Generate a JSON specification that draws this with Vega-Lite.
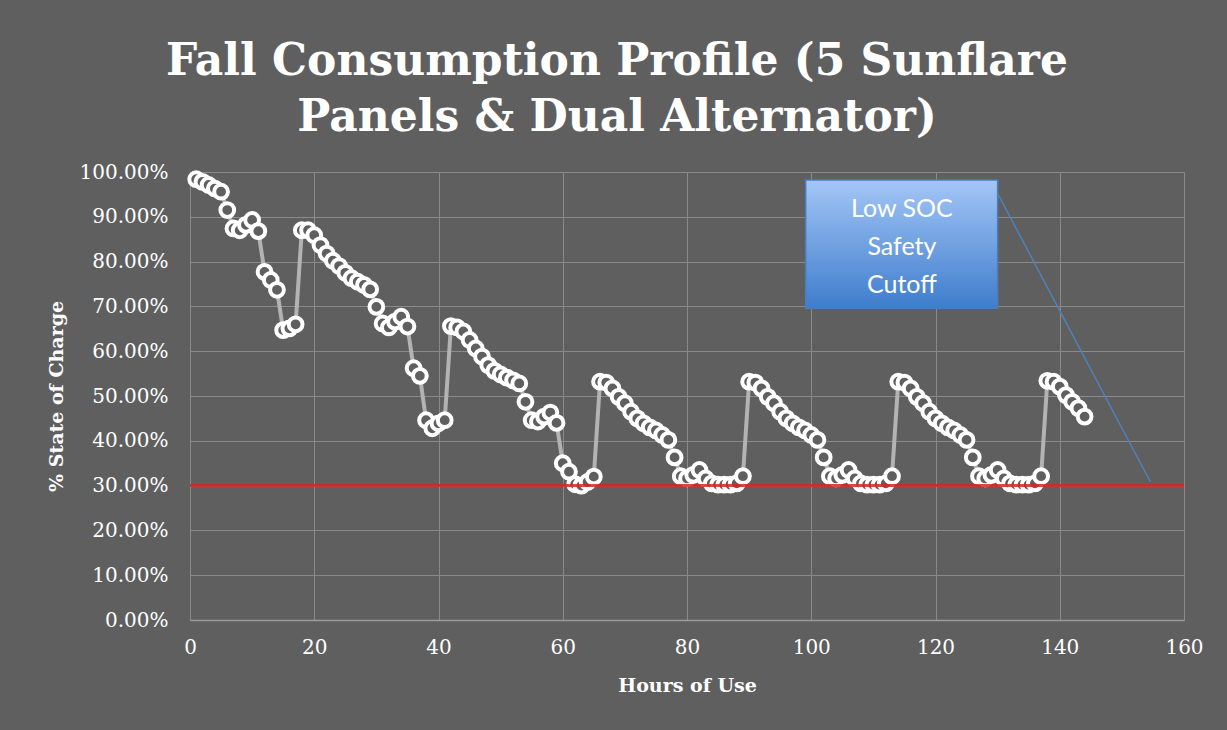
{
  "$schema": "https://vega.github.io/schema/vega-lite/v6.json",
  "autosize": {"type": "none"},
  "width": 994,
  "height": 448,
  "padding": {"left": 190, "top": 172, "right": 43, "bottom": 110},
  "background": "#5f5f5f",
  "title": {
    "text": ["Fall Consumption Profile (5 Sunflare", "Panels & Dual Alternator)"],
    "font": "DejaVu Serif",
    "fontSize": 44,
    "fontWeight": "bold",
    "color": "white",
    "lineHeight": 56,
    "anchor": "middle",
    "frame": "group",
    "dx": -70,
    "offset": 22
  },
  "config": {
    "view": {"stroke": null},
    "axis": {
      "labelColor": "white",
      "titleColor": "white",
      "labelFont": "DejaVu Serif",
      "labelFontSize": 20,
      "titleFont": "DejaVu Serif",
      "titleFontSize": 19,
      "titleFontWeight": "bold",
      "gridColor": "#8a8a8a",
      "gridWidth": 1,
      "ticks": false,
      "labelFlush": false
    }
  },
  "layer": [
    {
      "data": {"name": "soc", "values": [
        {"hour": 1, "soc": 0.984}, {"hour": 2, "soc": 0.978}, {"hour": 3, "soc": 0.971}, {"hour": 4, "soc": 0.963}, {"hour": 5, "soc": 0.956},
        {"hour": 6, "soc": 0.915}, {"hour": 7, "soc": 0.874}, {"hour": 8, "soc": 0.870}, {"hour": 9, "soc": 0.882}, {"hour": 10, "soc": 0.893},
        {"hour": 11, "soc": 0.868}, {"hour": 12, "soc": 0.777}, {"hour": 13, "soc": 0.759}, {"hour": 14, "soc": 0.737}, {"hour": 15, "soc": 0.647},
        {"hour": 16, "soc": 0.651}, {"hour": 17, "soc": 0.660}, {"hour": 18, "soc": 0.870}, {"hour": 19, "soc": 0.870}, {"hour": 20, "soc": 0.859},
        {"hour": 21, "soc": 0.837}, {"hour": 22, "soc": 0.818}, {"hour": 23, "soc": 0.802}, {"hour": 24, "soc": 0.790}, {"hour": 25, "soc": 0.775},
        {"hour": 26, "soc": 0.763}, {"hour": 27, "soc": 0.755}, {"hour": 28, "soc": 0.748}, {"hour": 29, "soc": 0.738}, {"hour": 30, "soc": 0.699},
        {"hour": 31, "soc": 0.662}, {"hour": 32, "soc": 0.653}, {"hour": 33, "soc": 0.666}, {"hour": 34, "soc": 0.677}, {"hour": 35, "soc": 0.655},
        {"hour": 36, "soc": 0.562}, {"hour": 37, "soc": 0.545}, {"hour": 38, "soc": 0.446}, {"hour": 39, "soc": 0.428}, {"hour": 40, "soc": 0.439},
        {"hour": 41, "soc": 0.446}, {"hour": 42, "soc": 0.656}, {"hour": 43, "soc": 0.653}, {"hour": 44, "soc": 0.644}, {"hour": 45, "soc": 0.625},
        {"hour": 46, "soc": 0.606}, {"hour": 47, "soc": 0.588}, {"hour": 48, "soc": 0.569}, {"hour": 49, "soc": 0.556}, {"hour": 50, "soc": 0.548},
        {"hour": 51, "soc": 0.541}, {"hour": 52, "soc": 0.535}, {"hour": 53, "soc": 0.528}, {"hour": 54, "soc": 0.487}, {"hour": 55, "soc": 0.446},
        {"hour": 56, "soc": 0.443}, {"hour": 57, "soc": 0.454}, {"hour": 58, "soc": 0.463}, {"hour": 59, "soc": 0.440}, {"hour": 60, "soc": 0.350},
        {"hour": 61, "soc": 0.331}, {"hour": 62, "soc": 0.303}, {"hour": 63, "soc": 0.300}, {"hour": 64, "soc": 0.308}, {"hour": 65, "soc": 0.320},
        {"hour": 66, "soc": 0.532}, {"hour": 67, "soc": 0.530}, {"hour": 68, "soc": 0.517}, {"hour": 69, "soc": 0.498}, {"hour": 70, "soc": 0.484},
        {"hour": 71, "soc": 0.465}, {"hour": 72, "soc": 0.450}, {"hour": 73, "soc": 0.439}, {"hour": 74, "soc": 0.430}, {"hour": 75, "soc": 0.423},
        {"hour": 76, "soc": 0.413}, {"hour": 77, "soc": 0.402}, {"hour": 78, "soc": 0.363}, {"hour": 79, "soc": 0.321}, {"hour": 80, "soc": 0.316},
        {"hour": 81, "soc": 0.324}, {"hour": 82, "soc": 0.335}, {"hour": 83, "soc": 0.316}, {"hour": 84, "soc": 0.305}, {"hour": 85, "soc": 0.302},
        {"hour": 86, "soc": 0.302}, {"hour": 87, "soc": 0.302}, {"hour": 88, "soc": 0.305}, {"hour": 89, "soc": 0.321},
        {"hour": 90, "soc": 0.532}, {"hour": 91, "soc": 0.530}, {"hour": 92, "soc": 0.517}, {"hour": 93, "soc": 0.498}, {"hour": 94, "soc": 0.484},
        {"hour": 95, "soc": 0.465}, {"hour": 96, "soc": 0.450}, {"hour": 97, "soc": 0.439}, {"hour": 98, "soc": 0.430}, {"hour": 99, "soc": 0.423},
        {"hour": 100, "soc": 0.413}, {"hour": 101, "soc": 0.402}, {"hour": 102, "soc": 0.363}, {"hour": 103, "soc": 0.321}, {"hour": 104, "soc": 0.316},
        {"hour": 105, "soc": 0.324}, {"hour": 106, "soc": 0.335}, {"hour": 107, "soc": 0.316}, {"hour": 108, "soc": 0.305}, {"hour": 109, "soc": 0.302},
        {"hour": 110, "soc": 0.302}, {"hour": 111, "soc": 0.302}, {"hour": 112, "soc": 0.305}, {"hour": 113, "soc": 0.321},
        {"hour": 114, "soc": 0.532}, {"hour": 115, "soc": 0.530}, {"hour": 116, "soc": 0.517}, {"hour": 117, "soc": 0.498}, {"hour": 118, "soc": 0.484},
        {"hour": 119, "soc": 0.465}, {"hour": 120, "soc": 0.450}, {"hour": 121, "soc": 0.439}, {"hour": 122, "soc": 0.430}, {"hour": 123, "soc": 0.423},
        {"hour": 124, "soc": 0.413}, {"hour": 125, "soc": 0.402}, {"hour": 126, "soc": 0.363}, {"hour": 127, "soc": 0.321}, {"hour": 128, "soc": 0.316},
        {"hour": 129, "soc": 0.324}, {"hour": 130, "soc": 0.335}, {"hour": 131, "soc": 0.316}, {"hour": 132, "soc": 0.305}, {"hour": 133, "soc": 0.302},
        {"hour": 134, "soc": 0.302}, {"hour": 135, "soc": 0.302}, {"hour": 136, "soc": 0.305}, {"hour": 137, "soc": 0.321},
        {"hour": 138, "soc": 0.534}, {"hour": 139, "soc": 0.532}, {"hour": 140, "soc": 0.521}, {"hour": 141, "soc": 0.502}, {"hour": 142, "soc": 0.487},
        {"hour": 143, "soc": 0.473}, {"hour": 144, "soc": 0.454}
      ]},
      "layer": [
        {
          "mark": {"type": "line", "color": "#b3b3b3", "strokeWidth": 4},
          "encoding": {
            "x": {"field": "hour", "type": "quantitative",
              "scale": {"domain": [0, 160], "nice": false},
              "axis": {"values": [0, 20, 40, 60, 80, 100, 120, 140, 160], "title": "Hours of Use",
                "domainColor": "#9a9a9a", "domainWidth": 1.5, "labelPadding": 17, "titlePadding": 19}},
            "y": {"field": "soc", "type": "quantitative",
              "scale": {"domain": [0, 1], "nice": false},
              "axis": {"values": [0, 0.1, 0.2, 0.3, 0.4, 0.5, 0.6, 0.7, 0.8, 0.9, 1], "format": ".2%",
                "title": "% State of Charge", "domain": false, "labelPadding": 22, "titlePadding": 13}}
          }
        },
        {
          "mark": {"type": "point", "shape": "circle", "fill": "#5f5f5f", "stroke": "white", "strokeWidth": 4, "size": 190, "opacity": 1},
          "encoding": {
            "x": {"field": "hour", "type": "quantitative"},
            "y": {"field": "soc", "type": "quantitative"}
          }
        }
      ]
    },
    {
      "data": {"values": [{}]},
      "mark": {"type": "rule", "color": "#d02828", "strokeWidth": 3, "opacity": 0.85},
      "encoding": {"y": {"datum": 0.3, "type": "quantitative"}}
    },
    {
      "data": {"values": [{}]},
      "mark": {"type": "rule", "color": "#4f81bd", "strokeWidth": 1.5},
      "encoding": {
        "x": {"datum": 130.0, "type": "quantitative"},
        "y": {"datum": 0.952, "type": "quantitative"},
        "x2": {"datum": 154.6},
        "y2": {"datum": 0.308}
      }
    },
    {
      "data": {"values": [{}]},
      "mark": {"type": "rect", "stroke": "#4a7ebb", "strokeWidth": 1.5,
        "fill": {"gradient": "linear", "x1": 0, "y1": 0, "x2": 0, "y2": 1,
          "stops": [{"offset": 0, "color": "#a3c6f6"}, {"offset": 1, "color": "#3f7dcd"}]}},
      "encoding": {
        "x": {"datum": 99.1, "type": "quantitative"},
        "x2": {"datum": 130.0},
        "y": {"datum": 0.982, "type": "quantitative"},
        "y2": {"datum": 0.696}
      }
    },
    {
      "data": {"values": [{"label": "Low SOC\nSafety\nCutoff"}]},
      "mark": {"type": "text", "font": "Lato", "fontSize": 25, "color": "white", "lineBreak": "\n", "lineHeight": 38, "align": "center", "baseline": "middle"},
      "encoding": {
        "x": {"datum": 114.6, "type": "quantitative"},
        "y": {"datum": 0.917, "type": "quantitative"},
        "text": {"field": "label"}
      }
    }
  ]
}
